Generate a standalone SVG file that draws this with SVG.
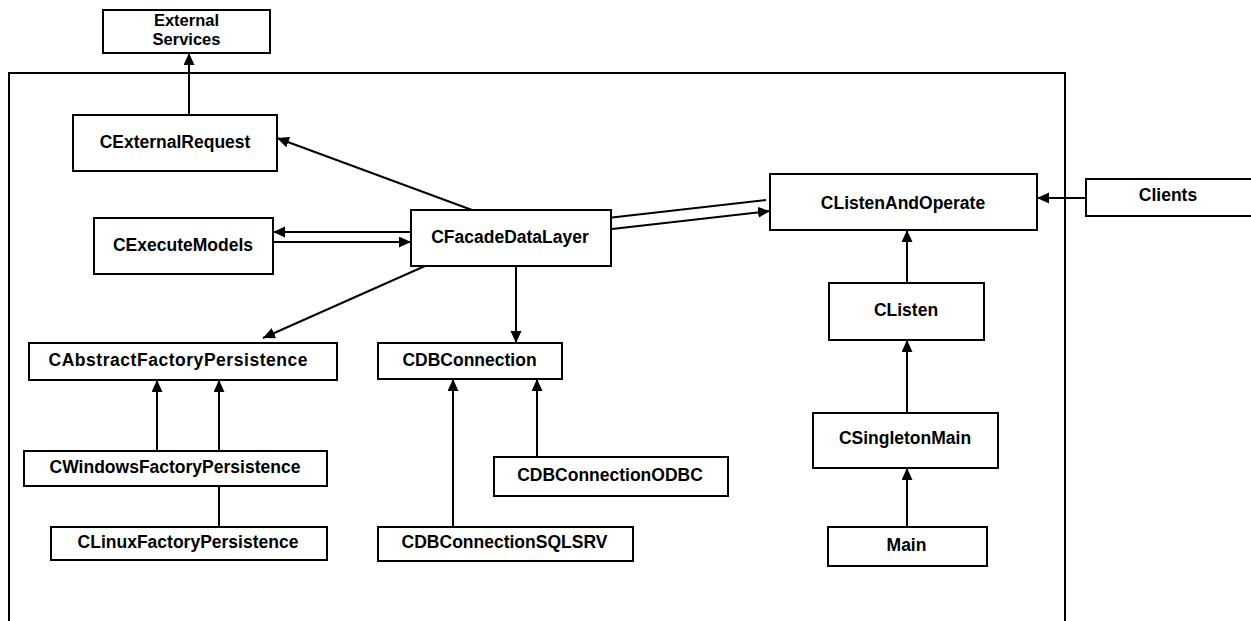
<svg xmlns="http://www.w3.org/2000/svg" width="1251" height="621" viewBox="0 0 1251 621">
<style>
.box{fill:#fff;stroke:#000;stroke-width:2}
.lbl{font-family:"Liberation Sans",Arial,sans-serif;font-weight:bold;font-size:17.5px;fill:#000;text-anchor:middle}
.sm{font-size:16.5px}
.edge{fill:none;stroke:#000;stroke-width:2}
</style>
<defs>
<marker id="ah" markerUnits="userSpaceOnUse" markerWidth="13" markerHeight="12" refX="12" refY="5.5" orient="auto">
<path d="M0,0 L12,5.5 L0,11 z" fill="#000"/>
</marker>
</defs>
<rect width="1251" height="621" fill="#fff"/>
<path id="boundary" class="edge" d="M9,623 V73 H1065 V623"/>
<g id="connectors">
<line class="edge" x1="189" y1="115" x2="189" y2="53" marker-end="url(#ah)"/>
<line class="edge" x1="472" y1="210" x2="277" y2="138" marker-end="url(#ah)"/>
<line class="edge" x1="411" y1="232" x2="273" y2="232" marker-end="url(#ah)"/>
<line class="edge" x1="273" y1="242" x2="411" y2="242" marker-end="url(#ah)"/>
<line class="edge" x1="425" y1="266" x2="263" y2="338" marker-end="url(#ah)"/>
<line class="edge" x1="516" y1="266" x2="516" y2="343" marker-end="url(#ah)"/>
<line class="edge" x1="612" y1="217.5" x2="766" y2="200"/>
<line class="edge" x1="612" y1="229" x2="770" y2="211" marker-end="url(#ah)"/>
<line class="edge" x1="1086" y1="198" x2="1037" y2="198" marker-end="url(#ah)"/>
<line class="edge" x1="907" y1="283" x2="907" y2="230" marker-end="url(#ah)"/>
<line class="edge" x1="907" y1="413" x2="907" y2="340" marker-end="url(#ah)"/>
<line class="edge" x1="907" y1="527" x2="907" y2="468" marker-end="url(#ah)"/>
<line class="edge" x1="157" y1="451" x2="157" y2="380" marker-end="url(#ah)"/>
<line class="edge" x1="219" y1="451" x2="219" y2="380" marker-end="url(#ah)"/>
<line class="edge" x1="219" y1="527" x2="219" y2="486"/>
<line class="edge" x1="453" y1="527" x2="453" y2="379" marker-end="url(#ah)"/>
<line class="edge" x1="537" y1="457" x2="537" y2="379" marker-end="url(#ah)"/>
</g>
<g id="n_external_services">
<rect class="box" x="103" y="10" width="167" height="43"/>
<text class="lbl sm" x="186.5" y="26">External</text>
<text class="lbl sm" x="186.5" y="44.5">Services</text>
</g>
<g id="n_cexternalrequest">
<rect class="box" x="73" y="115" width="204" height="56"/>
<text class="lbl" x="175" y="148">CExternalRequest</text>
</g>
<g id="n_cexecutemodels">
<rect class="box" x="94" y="218" width="179" height="56"/>
<text class="lbl" x="183" y="251">CExecuteModels</text>
</g>
<g id="n_cfacadedatalayer">
<rect class="box" x="411" y="210" width="200" height="56"/>
<text class="lbl" x="510" y="243">CFacadeDataLayer</text>
</g>
<g id="n_clistenandoperate">
<rect class="box" x="770" y="174" width="267" height="56"/>
<text class="lbl" x="903" y="208.5">CListenAndOperate</text>
</g>
<g id="n_clients">
<rect class="box" x="1086" y="179" width="167" height="37"/>
<text class="lbl" x="1168" y="201">Clients</text>
</g>
<g id="n_cabstractfactorypersistence">
<rect class="box" x="29" y="343" width="308" height="37"/>
<text class="lbl" x="178" y="366" textLength="259">CAbstractFactoryPersistence</text>
</g>
<g id="n_cdbconnection">
<rect class="box" x="378" y="343" width="184" height="36"/>
<text class="lbl" x="469.5" y="366">CDBConnection</text>
</g>
<g id="n_clisten">
<rect class="box" x="829" y="283" width="155" height="57"/>
<text class="lbl" x="906" y="316">CListen</text>
</g>
<g id="n_csingletonmain">
<rect class="box" x="813" y="413" width="185" height="55"/>
<text class="lbl" x="905" y="444">CSingletonMain</text>
</g>
<g id="n_main">
<rect class="box" x="828" y="527" width="159" height="39"/>
<text class="lbl" x="906.5" y="551">Main</text>
</g>
<g id="n_cwindowsfactorypersistence">
<rect class="box" x="24" y="451" width="303" height="35"/>
<text class="lbl" x="175" y="473">CWindowsFactoryPersistence</text>
</g>
<g id="n_clinuxfactorypersistence">
<rect class="box" x="51" y="527" width="276" height="33"/>
<text class="lbl" x="188" y="548">CLinuxFactoryPersistence</text>
</g>
<g id="n_cdbconnectionodbc">
<rect class="box" x="494" y="457" width="234" height="39"/>
<text class="lbl" x="610" y="481">CDBConnectionODBC</text>
</g>
<g id="n_cdbconnectionsqlsrv">
<rect class="box" x="378" y="527" width="255" height="34"/>
<text class="lbl" x="504.5" y="548">CDBConnectionSQLSRV</text>
</g>
</svg>
